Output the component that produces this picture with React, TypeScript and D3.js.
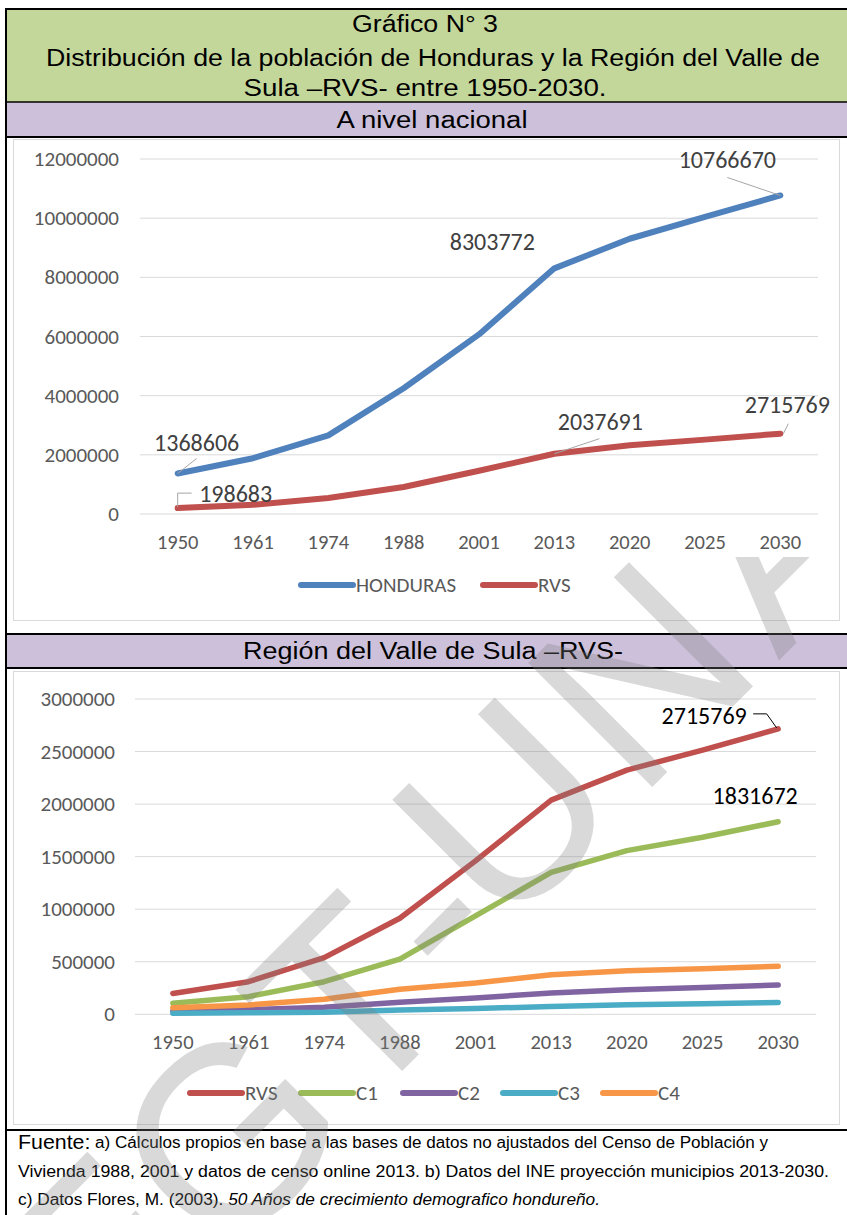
import React from "react";
import { scaleLinear, scalePoint, line } from "d3";

// categories and series
const years = ["1950", "1961", "1974", "1988", "2001", "2013", "2020", "2025", "2030"];
const honduras = [1368606, 1884765, 2656948, 4248561, 6071200, 8303772, 9304000, 10040000, 10766670];
const rvs = [198683, 310000, 539000, 914000, 1460000, 2037691, 2323000, 2514000, 2715769];
const c1 = [105000, 168000, 310000, 524000, 936000, 1350000, 1557000, 1685000, 1831672];
const c2 = [30000, 45000, 67000, 114000, 155000, 203000, 233000, 256000, 279000];
const c3 = [10000, 15000, 19000, 41000, 55000, 74000, 90000, 100000, 112000];
const c4 = [63000, 89000, 143000, 238000, 298000, 377000, 415000, 434000, 457000];
const ticks1 = [0, 2000000, 4000000, 6000000, 8000000, 10000000, 12000000];
const ticks2 = [0, 500000, 1000000, 1500000, 2000000, 2500000, 3000000];

const BLUE = "#4F81BD";
const RED = "#C0504D";
const GREEN = "#9BBB59";
const PURPLE = "#8064A2";
const CYAN = "#4BACC6";
const ORANGE = "#F79646";

const chartFont = "Carlito, Lato, 'Open Sans', sans-serif";
const titleFont = "'Liberation Sans', Arial, sans-serif";
const narrowFont = "'Liberation Sans Narrow', 'Liberation Sans', Arial, sans-serif";

// watermark letters, placed along a diagonal
const mark = [
  { ch: "E", x: 100, y: 1262 },
  { ch: "G", x: 228, y: 1135 },
  { ch: "T", x: 348, y: 1000 },
  { ch: "-", x: 428, y: 912 },
  { ch: "U", x: 505, y: 810 },
  { ch: "N", x: 640, y: 674 },
  { ch: "A", x: 776, y: 538 },
];

type Lbl = { series: number[]; i: number; dx: number; dy: number; leader?: [number, number][]; color: string };

function Chart({
  left, right, yTop, yBottom, max, ticks, labelX, xLabelY, series, labels, legendY, legend,
}: {
  left: number; right: number; yTop: number; yBottom: number; max: number; ticks: number[];
  labelX: number; xLabelY: number; series: { name: string; values: number[]; color: string; width: number }[];
  labels: Lbl[]; legendY: number; legend: { name: string; color: string; x: number }[];
}) {
  const x = scalePoint<string>().domain(years).range([left, right]).padding(0.5);
  const y = scaleLinear().domain([0, max]).range([yBottom, yTop]);
  const gen = line<number>().x((_, i) => x(years[i]) as number).y((d) => y(d));
  return (
    <g>
      {ticks.map((t) => (
        <g key={t}>
          <line x1={left} x2={right} y1={y(t)} y2={y(t)} stroke="#d9d9d9" strokeWidth={1} />
          <text x={labelX} y={y(t)} textAnchor="end" dominantBaseline="central" fontSize={21} fill="#595959" fontFamily={chartFont}>
            {t}
          </text>
        </g>
      ))}
      {years.map((yr) => (
        <text key={yr} x={x(yr)} y={xLabelY} textAnchor="middle" dominantBaseline="central" fontSize={20.5} fill="#595959" fontFamily={chartFont}>
          {yr}
        </text>
      ))}
      {series.map((s) => (
        <path key={s.name} d={gen(s.values) || ""} fill="none" stroke={s.color} strokeWidth={s.width} strokeLinecap="round" strokeLinejoin="round" />
      ))}
      {labels.map((l, k) => {
        const px = x(years[l.i]) as number;
        const py = y(l.series[l.i]);
        return (
          <g key={k}>
            {l.leader && (
              <polyline points={l.leader.map(([a, b]) => `${px + a},${py + b}`).join(" ")} fill="none" stroke={l.color === "#000" ? "#000" : "#a6a6a6"} strokeWidth={1} />
            )}
            <text x={px + l.dx} y={py + l.dy} textAnchor="middle" dominantBaseline="central" fontSize={24} fill={l.color} fontFamily={chartFont}>
              {l.series[l.i]}
            </text>
          </g>
        );
      })}
      {legend.map((g) => (
        <g key={g.name}>
          <line x1={g.x} x2={g.x + 52} y1={legendY} y2={legendY} stroke={g.color} strokeWidth={6} strokeLinecap="round" />
          <text x={g.x + 55} y={legendY} dominantBaseline="central" fontSize={21} fill="#595959" fontFamily={chartFont}>
            {g.name}
          </text>
        </g>
      ))}
    </g>
  );
}

export default function App() {
  const W = 847;
  const H = 1215;
  return (
    <svg width={W} height={H} style={{ position: "absolute", left: 0, top: 0, background: "#fff" }}>
      <defs>
        <clipPath id="wm">
          <rect x={0} y={557} width={W} height={H - 557} />
        </clipPath>
      </defs>
      {/* header bands */}
      <rect x={6} y={9} width={W} height={93} fill="#C4D79B" />
      <rect x={6} y={102} width={W} height={35} fill="#CCC0DA" />
      <rect x={6} y={634} width={W} height={34} fill="#CCC0DA" />

      <text x={425} y={24} textAnchor="middle" dominantBaseline="central" fontSize={23} fontFamily={titleFont} textLength={146} lengthAdjust="spacingAndGlyphs">Gráfico N° 3</text>
      <text x={433} y={58} textAnchor="middle" dominantBaseline="central" fontSize={23} fontFamily={titleFont} textLength={774} lengthAdjust="spacingAndGlyphs">Distribución de la población de Honduras y la Región del Valle de</text>
      <text x={425} y={88} textAnchor="middle" dominantBaseline="central" fontSize={23} fontFamily={titleFont} textLength={363} lengthAdjust="spacingAndGlyphs">Sula –RVS- entre 1950-2030.</text>
      <text x={432} y={120} textAnchor="middle" dominantBaseline="central" fontSize={23} fontFamily={titleFont} textLength={191} lengthAdjust="spacingAndGlyphs">A nivel nacional</text>
      <text x={433} y={651} textAnchor="middle" dominantBaseline="central" fontSize={23} fontFamily={titleFont} textLength={380} lengthAdjust="spacingAndGlyphs">Región del Valle de Sula –RVS-</text>

      {/* chart frames */}
      <rect x={13.5} y={139.5} width={826} height={481} fill="none" stroke="#d9d9d9" strokeWidth={1} />
      <rect x={13.5} y={671.5} width={826} height={453} fill="none" stroke="#d9d9d9" strokeWidth={1} />

      <Chart
        left={140} right={818} yTop={159} yBottom={514} max={12000000} ticks={ticks1}
        labelX={119} xLabelY={542}
        series={[
          { name: "HONDURAS", values: honduras, color: BLUE, width: 6 },
          { name: "RVS", values: rvs, color: RED, width: 6 },
        ]}
        labels={[
          { series: honduras, i: 0, dx: 19, dy: -31, leader: [[0, 0], [19, -15]], color: "#404040" },
          { series: honduras, i: 5, dx: -62, dy: -27, color: "#404040" },
          { series: honduras, i: 8, dx: -53, dy: -36, leader: [[-53, -18], [0, 0]], color: "#404040" },
          { series: rvs, i: 0, dx: 58, dy: -15, leader: [[0, -1], [0, -15], [14, -15]], color: "#404040" },
          { series: rvs, i: 5, dx: 46, dy: -32, leader: [[0, 0], [45, -15]], color: "#404040" },
          { series: rvs, i: 8, dx: 7, dy: -29, leader: [[3, 0], [8, -10]], color: "#404040" },
        ]}
        legendY={585}
        legend={[
          { name: "HONDURAS", color: BLUE, x: 301 },
          { name: "RVS", color: RED, x: 483 },
        ]}
      />

      <Chart
        left={135} right={816} yTop={699} yBottom={1014.3} max={3000000} ticks={ticks2}
        labelX={115} xLabelY={1042}
        series={[
          { name: "RVS", values: rvs, color: RED, width: 5.5 },
          { name: "C1", values: c1, color: GREEN, width: 5.5 },
          { name: "C2", values: c2, color: PURPLE, width: 5.5 },
          { name: "C3", values: c3, color: CYAN, width: 5.5 },
          { name: "C4", values: c4, color: ORANGE, width: 5.5 },
        ]}
        labels={[
          { series: rvs, i: 8, dx: -74, dy: -13, leader: [[-25, -15], [-11.5, -15], [-1.5, -1]], color: "#000" },
          { series: c1, i: 8, dx: -23, dy: -26.5, color: "#000" },
        ]}
        legendY={1093}
        legend={[
          { name: "RVS", color: RED, x: 190 },
          { name: "C1", color: GREEN, x: 301 },
          { name: "C2", color: PURPLE, x: 403 },
          { name: "C3", color: CYAN, x: 503 },
          { name: "C4", color: ORANGE, x: 603 },
        ]}
      />

      {/* footer */}
      <text x={18} y={1142} dominantBaseline="central" fontSize={16} fontFamily={narrowFont} textLength={750} lengthAdjust="spacingAndGlyphs">
        <tspan fontSize={20}>Fuente:</tspan> a) Cálculos propios en base a las bases de datos no ajustados del Censo de Población y
      </text>
      <text x={18} y={1171} dominantBaseline="central" fontSize={16} fontFamily={narrowFont} textLength={811} lengthAdjust="spacingAndGlyphs">
        Vivienda 1988, 2001 y datos de censo online 2013. b) Datos del INE proyección  municipios 2013-2030.
      </text>
      <text x={18} y={1199} dominantBaseline="central" fontSize={16} fontFamily={narrowFont} textLength={582} lengthAdjust="spacingAndGlyphs">
        c) Datos Flores, M. (2003). <tspan fontStyle="italic">50 Años de crecimiento demografico hondureño.</tspan>
      </text>

      {/* black rules */}
      <line x1={6} x2={W} y1={9} y2={9} stroke="#000" strokeWidth={2} />
      <line x1={6} x2={W} y1={102} y2={102} stroke="#000" strokeWidth={1.5} />
      <line x1={6} x2={W} y1={137} y2={137} stroke="#000" strokeWidth={2} />
      <line x1={6} x2={W} y1={634} y2={634} stroke="#000" strokeWidth={2} />
      <line x1={6} x2={W} y1={668} y2={668} stroke="#000" strokeWidth={2} />
      <line x1={6} x2={W} y1={1130} y2={1130} stroke="#000" strokeWidth={2} />
      <line x1={6} x2={6} y1={8} y2={H} stroke="#000" strokeWidth={2} />

      {/* watermark */}
      <g clipPath="url(#wm)" fill="#7f7f7f" opacity={0.3}>
        {mark.map((m, k) => (
          <text key={k} x={m.x} y={m.y} transform={`rotate(-45 ${m.x} ${m.y})`} textAnchor="middle" dominantBaseline="central" fontSize={255} fontFamily={titleFont}>
            {m.ch}
          </text>
        ))}
      </g>
    </svg>
  );
}
